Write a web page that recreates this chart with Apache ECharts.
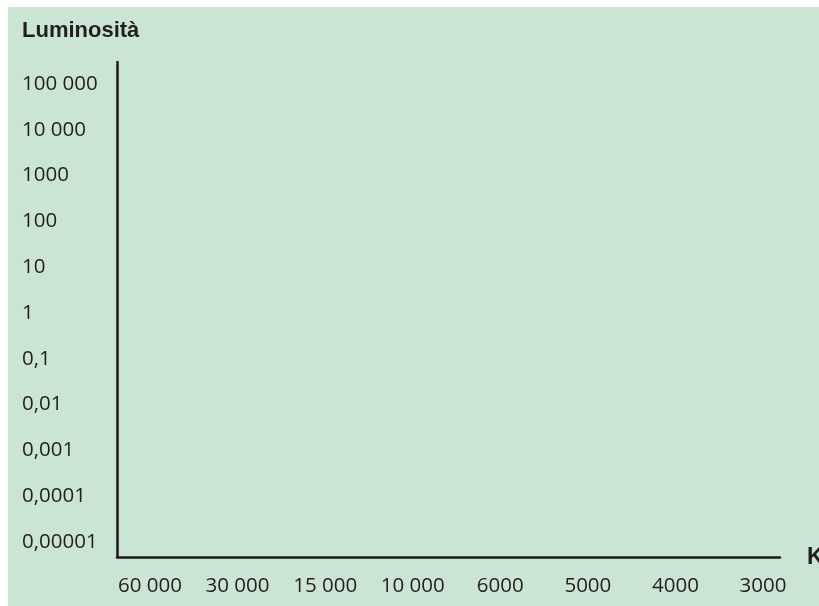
<!DOCTYPE html>
<html>
<head>
<meta charset="utf-8">
<script src="https://cdn.jsdelivr.net/npm/echarts@6/dist/echarts.min.js"></script>
<style>
html,body{margin:0;padding:0;background:#ffffff;}
#c{position:absolute;left:8px;top:7px;width:811px;height:599px;}
</style>
</head>
<body>
<div id="c"></div>
<script>
// Tick labels (bottom to top for luminosity)
const luminosityLabels = ['0,00001','0,0001','0,001','0,01','0,1','1','10','100','1000','10 000','100 000'];
const temperatureLabels = ['60 000','30 000','15 000','10 000','6000','5000','4000','3000'];
const yTitle = 'Luminosità';
const xTitle = 'K';

const OX = 8, OY = 7; // container offset
const chart = echarts.init(document.getElementById('c'), null, {renderer:'canvas'});
const txt = '#231f20';
chart.setOption({
  backgroundColor: '#cbe5d4',
  animation: false,
  title: [
    {text: yTitle, left: 22-OX, top: 20-OY, padding:0, textStyle:{fontFamily:'Liberation Sans', fontWeight:'bold', fontSize:22, color:txt}},
    {text: xTitle, left: 807-OX, top: 546-OY, padding:0, textStyle:{fontFamily:'Liberation Sans', fontWeight:'bold', fontSize:23, color:txt}}
  ],
  grid: [
    {left: 117-OX, right: 819-780, top: 62-OY, bottom: 606-557, containLabel:false},
    {left: 150-OX, right: 819-763, top: 84-OY, bottom: 606-542, containLabel:false}
  ],
  xAxis: [
    {gridIndex:0, type:'value', min:0, max:1, axisLine:{show:true, onZero:false, lineStyle:{color:'#1a1a1a', width:2.5}}, axisTick:{show:false}, axisLabel:{show:false}, splitLine:{show:false}},
    {gridIndex:1, type:'category', data: temperatureLabels, boundaryGap:false, axisLine:{show:false}, axisTick:{show:false}, splitLine:{show:false},
     axisLabel:{show:true, interval:0, margin:34, color:txt, fontFamily:'Open Sans', fontSize:20.5}}
  ],
  yAxis: [
    {gridIndex:0, type:'value', min:0, max:1, axisLine:{show:true, onZero:false, lineStyle:{color:'#1a1a1a', width:2.5}}, axisTick:{show:false}, axisLabel:{show:false}, splitLine:{show:false}},
    {gridIndex:1, type:'category', data: luminosityLabels, boundaryGap:false, axisLine:{show:false}, axisTick:{show:false}, splitLine:{show:false},
     axisLabel:{show:true, interval:0, align:'left', margin:150-22, color:txt, fontFamily:'Open Sans', fontSize:20.5}}
  ],
  series: [
    {type:'scatter', xAxisIndex:0, yAxisIndex:0, data:[], silent:true},
    {type:'scatter', xAxisIndex:1, yAxisIndex:1, data:[], silent:true}
  ]
});
</script>
</body>
</html>
